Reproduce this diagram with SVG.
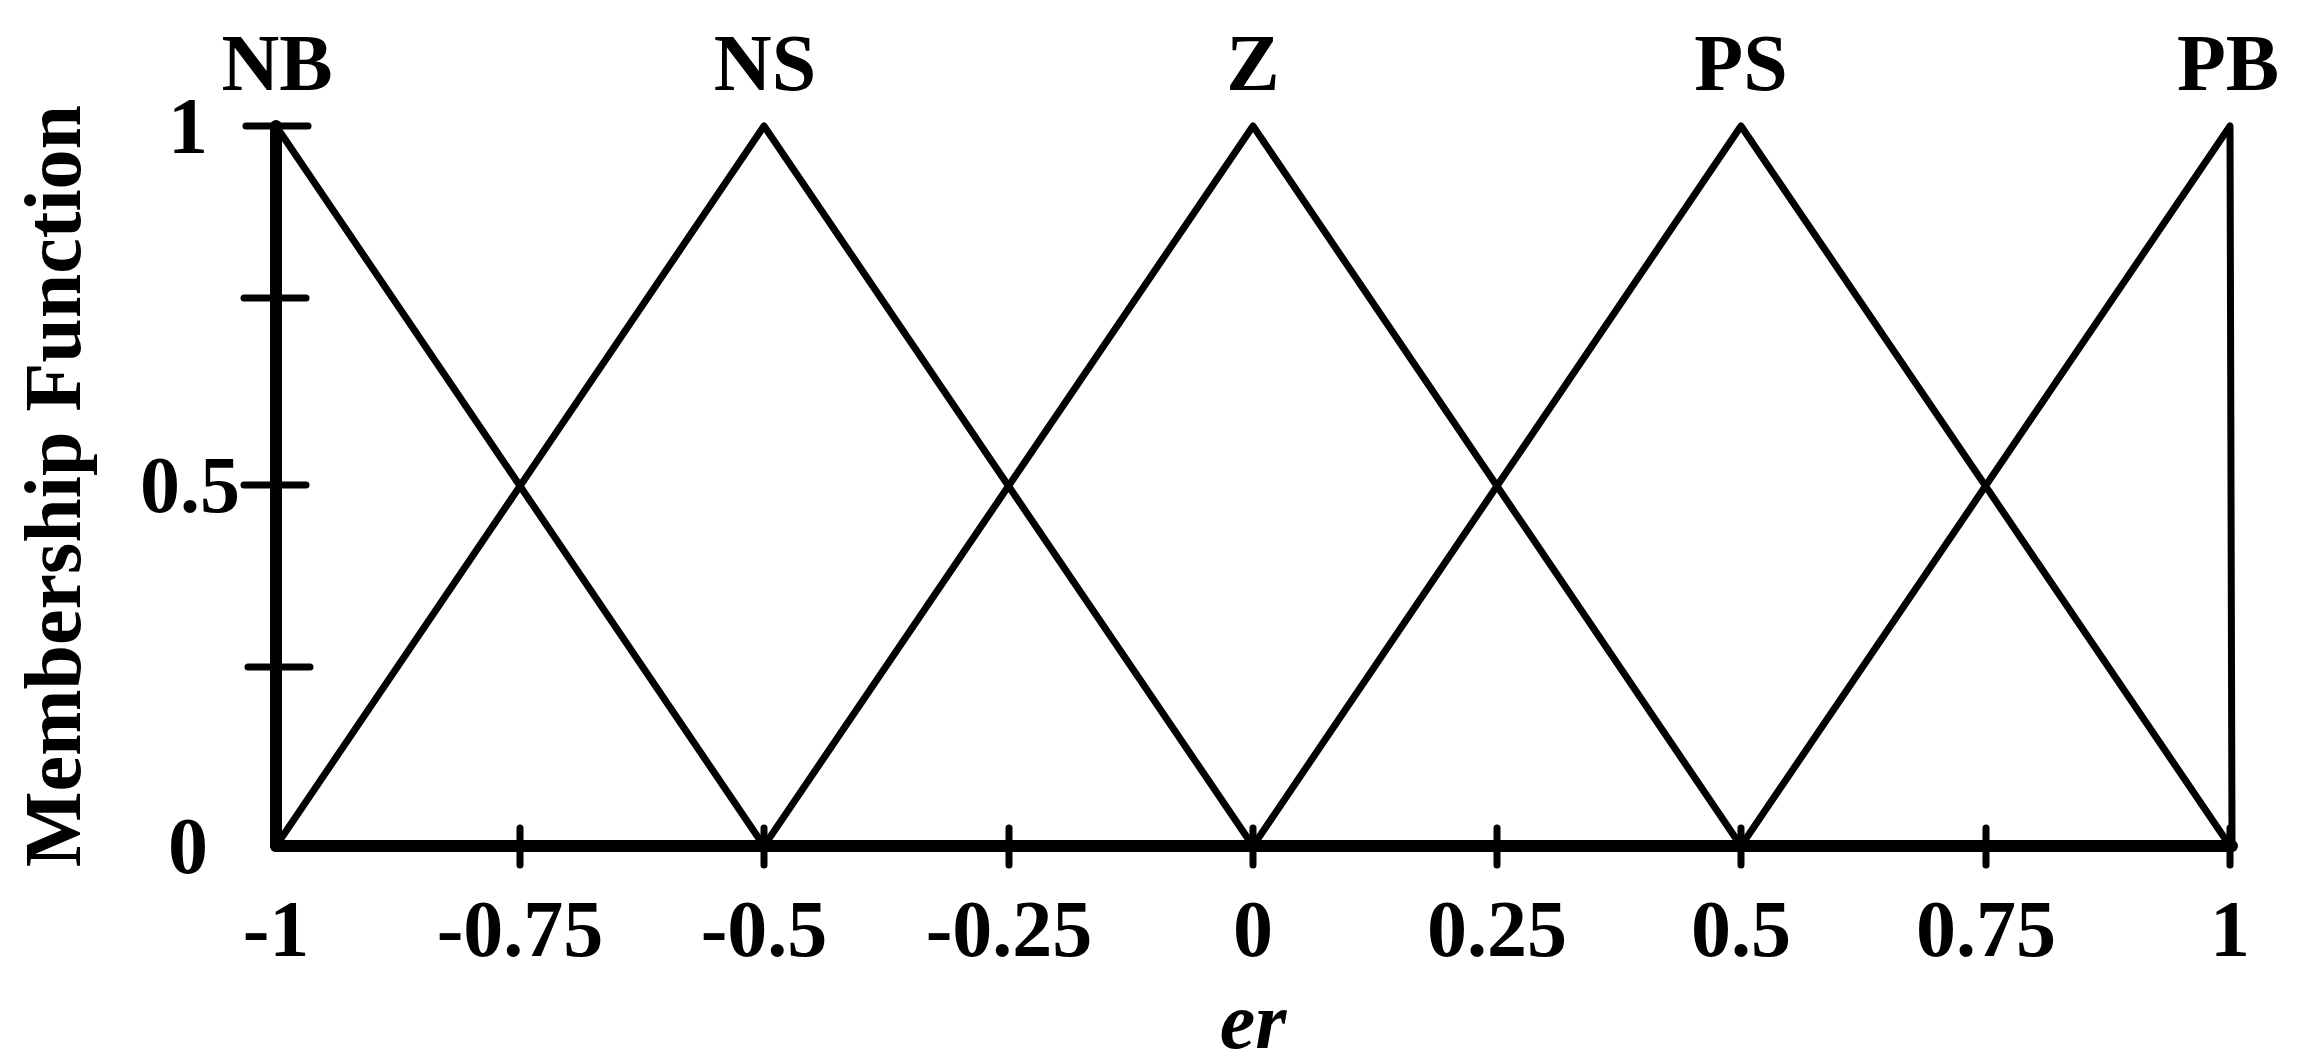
<svg xmlns="http://www.w3.org/2000/svg" width="2298" height="1062" viewBox="0 0 2298 1062">
<style>
.t{font-family:"Liberation Serif",serif;font-weight:bold;font-size:80px;fill:#000}
.mf{fill:none;stroke:#000;stroke-width:7;stroke-linejoin:round;stroke-linecap:round}
.ax{stroke:#000;stroke-width:12;stroke-linecap:round}
.tk{stroke:#000;stroke-width:7;stroke-linecap:round}
</style>
<rect width="2298" height="1062" fill="#fff"/>
<g id="connectors">
<polyline class="mf" points="276,126 764,846 1253,126 1741,846 2230,126 2232,846"/>
<polyline class="mf" points="276,846 764,126 1253,846 1741,126 2230,846"/>
</g>
<g id="axes">
<line class="ax" x1="276" y1="126" x2="276" y2="846"/>
<line class="ax" x1="276" y1="846" x2="2232" y2="846"/>
<line class="tk" x1="246" y1="126" x2="308" y2="126"/>
<line class="tk" x1="244" y1="298" x2="306" y2="298"/>
<line class="tk" x1="244" y1="485" x2="306" y2="485"/>
<line class="tk" x1="248" y1="667" x2="310" y2="667"/>
<line class="tk" x1="520" y1="828" x2="520" y2="865"/>
<line class="tk" x1="764" y1="828" x2="764" y2="865"/>
<line class="tk" x1="1009" y1="828" x2="1009" y2="865"/>
<line class="tk" x1="1253" y1="828" x2="1253" y2="865"/>
<line class="tk" x1="1497" y1="828" x2="1497" y2="865"/>
<line class="tk" x1="1741" y1="828" x2="1741" y2="865"/>
<line class="tk" x1="1986" y1="828" x2="1986" y2="865"/>
<line class="tk" x1="2230" y1="828" x2="2230" y2="865"/>
</g>
<g id="labels" class="t">
<text x="277" y="90" text-anchor="middle">NB</text>
<text x="765" y="90" text-anchor="middle">NS</text>
<text x="1253" y="90" text-anchor="middle">Z</text>
<text x="1741" y="90" text-anchor="middle">PS</text>
<text x="2228" y="90" text-anchor="middle">PB</text>
<text x="208" y="153" text-anchor="end">1</text>
<text x="240" y="512" text-anchor="end">0.5</text>
<text x="208" y="873" text-anchor="end">0</text>
<text x="276" y="956" text-anchor="middle">-1</text>
<text x="520" y="956" text-anchor="middle">-0.75</text>
<text x="764" y="956" text-anchor="middle">-0.5</text>
<text x="1009" y="956" text-anchor="middle">-0.25</text>
<text x="1253" y="956" text-anchor="middle">0</text>
<text x="1497" y="956" text-anchor="middle">0.25</text>
<text x="1741" y="956" text-anchor="middle">0.5</text>
<text x="1986" y="956" text-anchor="middle">0.75</text>
<text x="2230" y="956" text-anchor="middle">1</text>
<text x="1253" y="1048" text-anchor="middle" font-style="italic">er</text>
<text transform="translate(80,486) rotate(-90)" text-anchor="middle">Membership Function</text>
</g>
</svg>
